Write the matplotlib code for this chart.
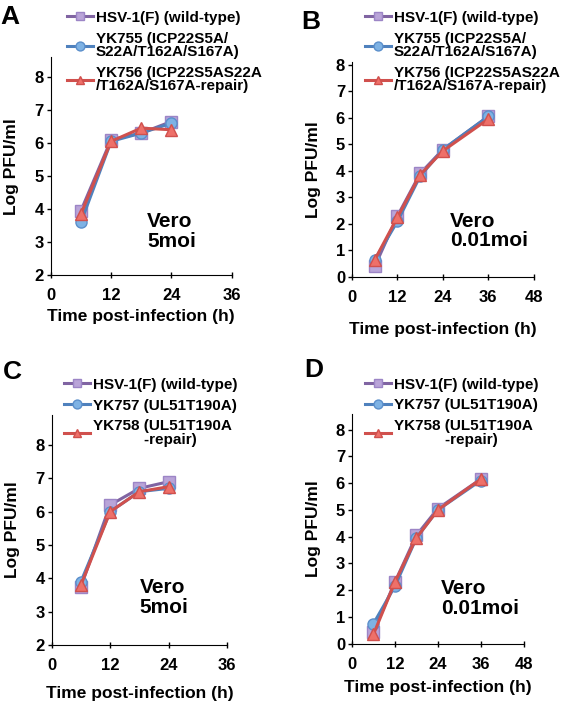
import numpy as np
import matplotlib.pyplot as plt

plt.rcParams['font.family'] = ['Liberation Sans', 'DejaVu Sans']
plt.rcParams['font.weight'] = 'bold'

# data (Log PFU/ml)
t_5moi = [6, 12, 18, 24]
t_001moi = [6, 12, 18, 24, 36]

a_wt = [3.95, 6.1, 6.3, 6.65]
a_yk755 = [3.6, 6.05, 6.3, 6.6]
a_yk756 = [3.85, 6.05, 6.45, 6.4]

b_wt = [0.4, 2.3, 3.9, 4.8, 6.05]
b_yk755 = [0.65, 2.1, 3.8, 4.8, 6.05]
b_yk756 = [0.65, 2.25, 3.85, 4.75, 5.95]

c_wt = [3.75, 6.2, 6.7, 6.9]
c_yk757 = [3.9, 6.0, 6.6, 6.7]
c_yk758 = [3.8, 6.0, 6.6, 6.75]

d_wt = [0.45, 2.3, 4.05, 5.05, 6.15]
d_yk757 = [0.75, 2.15, 3.95, 5.0, 6.1]
d_yk758 = [0.35, 2.3, 3.95, 5.0, 6.15]

labels_ab = ['HSV-1(F) (wild-type)',
             'YK755 (ICP22S5A/\nS22A/T162A/S167A)',
             'YK756 (ICP22S5AS22A\n/T162A/S167A-repair)']
labels_cd = ['HSV-1(F) (wild-type)',
             'YK757 (UL51T190A)',
             'YK758 (UL51T190A\n            -repair)']

styles = [dict(color='#8064A2', marker='s', mfc='#B9A4D8', mec='#9C85C6'),
          dict(color='#4F81BD', marker='o', mfc='#7EB2E4', mec='#5B8FCB'),
          dict(color='#D0504D', marker='^', mfc='#EE7069', mec='#D0504D')]

fig = plt.figure(figsize=(5.66, 7.04), dpi=100)

panels = [
    ('A', [0.0896, 0.609, 0.32, 0.31], t_5moi, [a_wt, a_yk755, a_yk756], labels_ab,
     (0, 36), [0, 12, 24, 36], (2, 8.6), range(2, 9), 'Vero\n5moi', 19.2, 3.33,
     (0.09, 1.212), 4),
    ('B', [0.622, 0.6065, 0.321, 0.3055], t_001moi, [b_wt, b_yk755, b_yk756], labels_ab,
     (0, 48), [0, 12, 24, 36, 48], (0, 8.1), range(0, 9), 'Vero\n0.01moi', 25.9, 1.73,
     (0.07, 1.238), 12),
    ('C', [0.0913, 0.0838, 0.31, 0.3267], t_5moi, [c_wt, c_yk757, c_yk758], labels_cd,
     (0, 36), [0, 12, 24, 36], (2, 8.9), range(2, 9), 'Vero\n5moi', 18.1, 3.42,
     (0.07, 1.162), 9),
    ('D', [0.622, 0.0857, 0.303, 0.3267], t_001moi, [d_wt, d_yk757, d_yk758], labels_cd,
     (0, 48), [0, 12, 24, 36, 48], (0, 8.6), range(0, 9), 'Vero\n0.01moi', 24.9, 1.69,
     (0.075, 1.157), 5.5),
]

for letter, pos, t, series, labels, xlim, xticks, ylim, yticks, note, nx, ny, lpos, xpad in panels:
    ax = fig.add_axes(pos)
    for y, lab, st in zip(series, labels, styles):
        ax.plot(t, y, lw=2.2, ms=8, mew=1, label=lab, **st)
    ax.set_xlim(*xlim)
    ax.set_ylim(*ylim)
    ax.set_xticks(xticks)
    ax.set_yticks(list(yticks))
    ax.spines['top'].set_visible(False)
    ax.spines['right'].set_visible(False)
    ax.tick_params(labelsize=12, width=1)
    ax.tick_params(axis='y', direction='out', length=3, pad=2)
    ax.tick_params(axis='x', direction='inout', length=5, pad=7)
    for lbl in ax.get_xticklabels() + ax.get_yticklabels():
        lbl.set_fontweight('bold')
    ax.set_xlabel('Time post-infection (h)', fontsize=12.5, fontweight='bold', labelpad=xpad)
    ax.set_ylabel('Log PFU/ml', fontsize=12.5, fontweight='bold', labelpad=11)
    ax.text(nx, ny, note, ha='left', va='center', fontsize=15, fontweight='bold',
            linespacing=1.05)
    ax.text(-0.28, 1.24, letter, transform=ax.transAxes, fontsize=19,
            fontweight='bold', va='top')
    leg = ax.legend(loc='upper left', bbox_to_anchor=lpos, frameon=False,
                    prop={'size': 11, 'weight': 'bold'}, handlelength=1.7,
                    handletextpad=0.2, labelspacing=0.45, borderaxespad=0,
                    borderpad=0, markerscale=0.8)
    for txt in leg.get_texts():
        txt.set_linespacing(0.95)

fig.savefig('out.png', dpi=100)
